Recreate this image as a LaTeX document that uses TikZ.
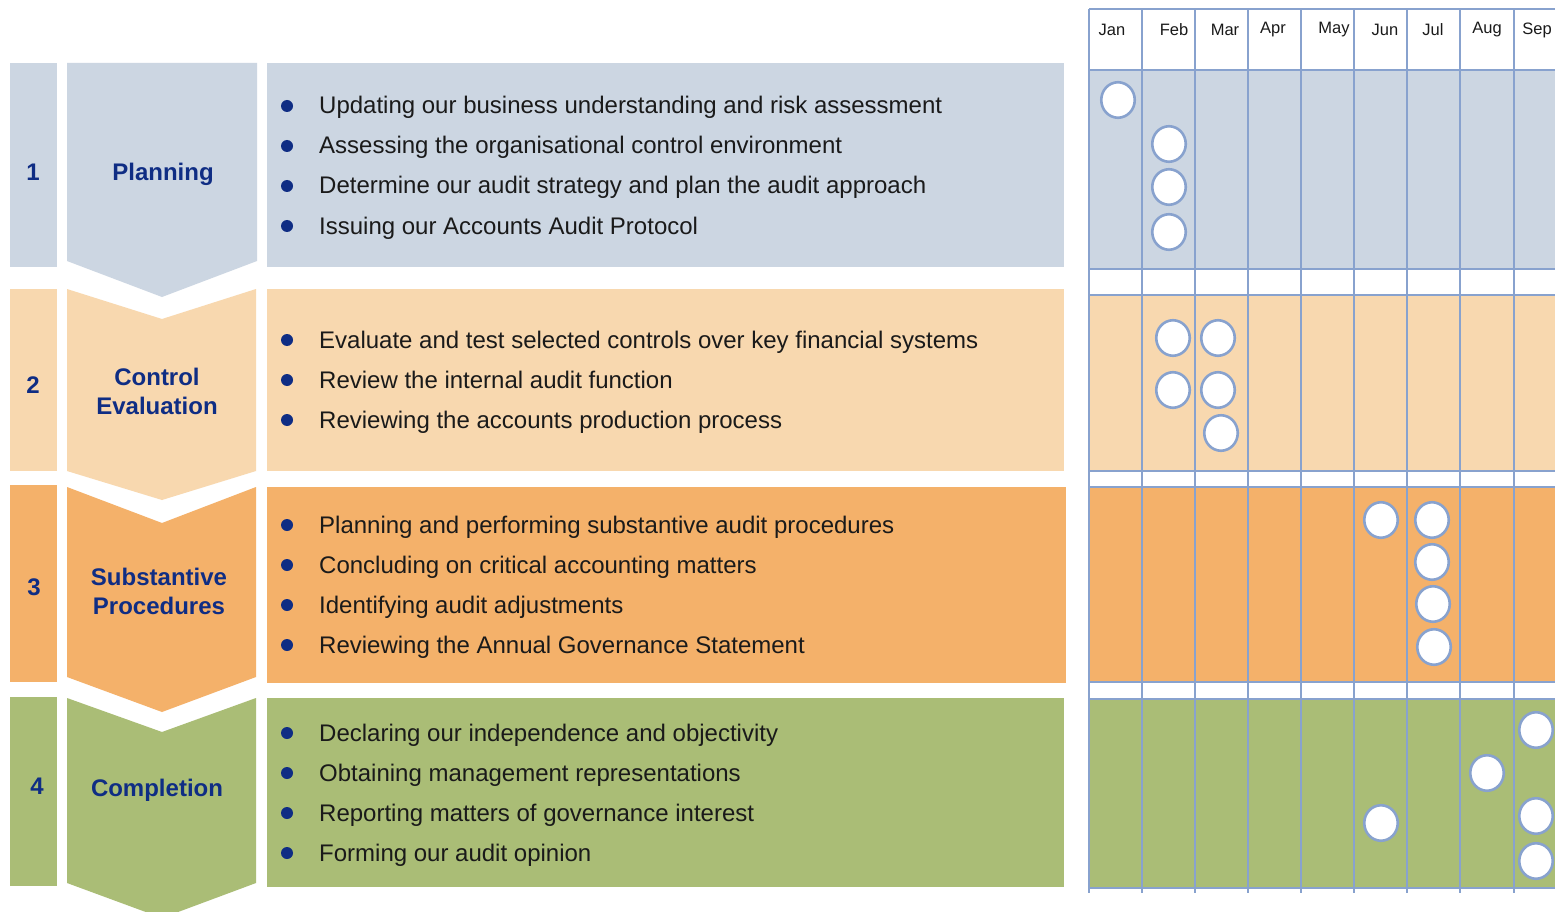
\documentclass[tikz,border=0pt]{standalone}
\usepackage{fontspec}
\setmainfont{Liberation Sans}
\usetikzlibrary{shapes.geometric}

\definecolor{bandA}{HTML}{CCD6E2}
\definecolor{bandB}{HTML}{F8D8AF}
\definecolor{bandC}{HTML}{F4B16A}
\definecolor{bandD}{HTML}{AABD76}
\definecolor{navy}{HTML}{0F2D84}
\definecolor{ink}{HTML}{1A1A1A}
\definecolor{gridc}{HTML}{88A2CE}

\begin{document}
\begin{tikzpicture}[x=1pt, y=-1pt,
  numlabel/.style={text=navy, inner sep=0pt, font=\fontsize{24}{28}\selectfont\bfseries},
  phaselabel/.style={text=navy, inner sep=0pt, align=center, font=\fontsize{24}{29}\selectfont\bfseries},
  itemtext/.style={anchor=base west, inner sep=0pt, text=ink, font=\fontsize{24}{28}\selectfont},
  bulletdot/.style={circle, fill=navy, inner sep=0pt, minimum size=12pt},
  month/.style={text=ink, inner sep=0pt, font=\fontsize{16.5}{19}\selectfont},
  gridline/.style={draw=gridc, line width=2.4pt},
  slot/.style={ellipse, draw=gridc, line width=2.6pt, fill=white, inner sep=0pt,
               minimum width=33.5pt, minimum height=35.5pt}
]
\useasboundingbox (0,0) rectangle (1555,912);
\fill[white] (0,0) rectangle (1555,912);

% ---------- phase number boxes ----------
\fill[bandA] (10,63)  rectangle (57,267);
\fill[bandB] (10,289) rectangle (57,471);
\fill[bandC] (10,485) rectangle (57,682);
\fill[bandD] (10,697) rectangle (57,886);
\node[numlabel] (n1) at (33,172) {1};
\node[numlabel] (n2) at (33,385) {2};
\node[numlabel] (n3) at (34,587) {3};
\node[numlabel] (n4) at (37,786) {4};

% ---------- chevrons ----------
\fill[bandA] (67,63) -- (257,63) -- (257,261) -- (162,297) -- (67,261) -- cycle;
\fill[bandB] (67,289) -- (162,319) -- (256,289) -- (256,471) -- (162,500) -- (67,471) -- cycle;
\fill[bandC] (67,487) -- (162,523) -- (256,487) -- (256,677) -- (162,712) -- (67,677) -- cycle;
\fill[bandD] (67,698) -- (162,732) -- (256,698) -- (256,883) -- (162,918) -- (67,883) -- cycle;
\node[phaselabel] (p1) at (163,174) {Planning};
\node[phaselabel] (p2) at (157,391) {Control\\Evaluation};
\node[phaselabel] (p3) at (159,591.5) {Substantive\\Procedures};
\node[phaselabel] (p4) at (157,790) {Completion};

% ---------- activity panels ----------
\fill[bandA] (267,63)  rectangle (1064,267);
\fill[bandB] (267,289) rectangle (1064,471);
\fill[bandC] (267,487) rectangle (1066,683);
\fill[bandD] (267,698) rectangle (1064,887);

\foreach \t [count=\i] in {Updating our business understanding and risk assessment,
  Assessing the organisational control environment,
  Determine our audit strategy and plan the audit approach,
  Issuing our Accounts Audit Protocol} {
  \node[bulletdot] (a\i) at (287,{106+40*(\i-1)}) {};
  \node[itemtext] (ta\i) at (319,{114+40*(\i-1)}) {\t};
}
\foreach \t [count=\i] in {Evaluate and test selected controls over key financial systems,
  Review the internal audit function,
  Reviewing the accounts production process} {
  \node[bulletdot] (b\i) at (287,{340+40*(\i-1)}) {};
  \node[itemtext] (tb\i) at (319,{348+40*(\i-1)}) {\t};
}
\foreach \t [count=\i] in {Planning and performing substantive audit procedures,
  Concluding on critical accounting matters,
  Identifying audit adjustments,
  Reviewing the Annual Governance Statement} {
  \node[bulletdot] (c\i) at (287,{525+40*(\i-1)}) {};
  \node[itemtext] (tc\i) at (319,{533+40*(\i-1)}) {\t};
}
\foreach \t [count=\i] in {Declaring our independence and objectivity,
  Obtaining management representations,
  Reporting matters of governance interest,
  Forming our audit opinion} {
  \node[bulletdot] (d\i) at (287,{733+40*(\i-1)}) {};
  \node[itemtext] (td\i) at (319,{741+40*(\i-1)}) {\t};
}

% ---------- timeline grid ----------
\fill[bandA] (1089,70)  rectangle (1555,269);
\fill[bandB] (1089,295) rectangle (1555,471);
\fill[bandC] (1089,487) rectangle (1555,682);
\fill[bandD] (1089,699) rectangle (1555,888);
\foreach \x in {1089,1142,1195,1248,1301,1354,1407,1460,1514}
  \draw[gridline] (\x,9) -- (\x,893);
\foreach \y in {9,70,269,295,471,487,682,699,888}
  \draw[gridline] (1089,\y) -- (1555,\y);

\foreach \m/\x in {Jan/1112,Feb/1174,Mar/1225,Apr/1273,May/1334,Jun/1385,Jul/1433,Aug/1487,Sep/1537}
  \node[month] (m\m) at (\x,30) {\m};

% ---------- scheduled activities ----------
\node[slot] (s1a) at (1118,100) {};
\node[slot] (s1b) at (1169,144) {};
\node[slot] (s1c) at (1169,187) {};
\node[slot] (s1d) at (1169,232) {};

\node[slot] (s2a) at (1173,338) {};
\node[slot] (s2b) at (1173,390) {};
\node[slot] (s2c) at (1218,338) {};
\node[slot] (s2d) at (1218,390) {};
\node[slot] (s2e) at (1221,433) {};

\node[slot] (s3a) at (1381,520) {};
\node[slot] (s3b) at (1432,520) {};
\node[slot] (s3c) at (1432,562) {};
\node[slot] (s3d) at (1433,604) {};
\node[slot] (s3e) at (1434,647) {};

\node[slot] (s4a) at (1536,730) {};
\node[slot] (s4b) at (1487,773) {};
\node[slot] (s4c) at (1381,823) {};
\node[slot] (s4d) at (1536,816) {};
\node[slot] (s4e) at (1536,861) {};
\end{tikzpicture}
\end{document}
